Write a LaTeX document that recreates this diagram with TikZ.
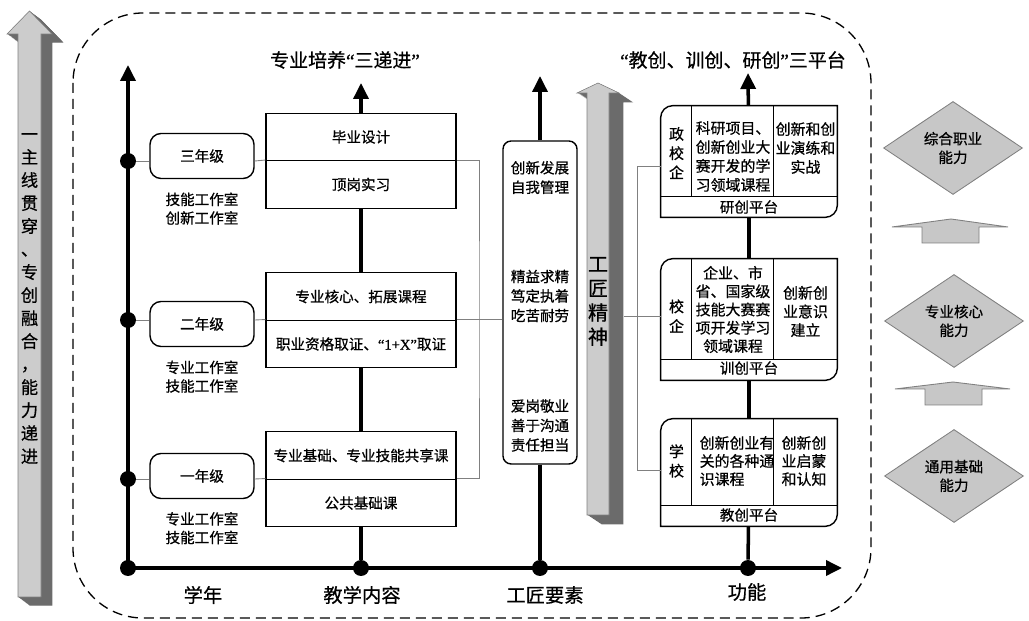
\documentclass[tikz,border=0pt]{standalone}
\usepackage{fontspec}
\setmainfont{Noto Sans CJK SC}[FakeBold=0.6]
\newfontfamily\quotefont{Liberation Serif}[FakeBold=0.6]
\newcommand\qopen{{\quotefont “}}
\newcommand\qclose{{\quotefont ”}}
\usetikzlibrary{arrows.meta,positioning,shapes.geometric}

\definecolor{facegray}{gray}{0.80}
\definecolor{sidegray}{gray}{0.42}
\definecolor{dmdgray}{gray}{0.78}
\definecolor{linkgray}{gray}{0.50}

\tikzset{
  txt/.style={font=\fontsize{8.3}{10.6}\selectfont, align=center, inner sep=0pt},
  yearbox/.style={txt, draw, line width=0.8pt, rounded corners=0.22cm, fill=white,
    minimum width=2.08cm, minimum height=0.9cm},
  coursebox/.style={txt, draw, line width=0.8pt, fill=white,
    minimum width=3.8cm, minimum height=0.95cm},
  platform/.style={minimum width=3.52cm, inner sep=0pt},
  ability/.style={txt, diamond, draw=gray, fill=dmdgray, line width=0.5pt,
    minimum width=2.78cm, minimum height=1.86cm},
  dot/.style={circle, fill=black, inner sep=0pt, minimum size=0.32cm},
  spine/.style={line width=2pt},
  spinetip/.style={-{Triangle[length=0.32cm,width=0.3cm]}},
  link/.style={draw=linkgray, line width=0.5pt},
  heading/.style={font=\fontsize{10.8}{13}\selectfont, inner sep=0pt},
  axislabel/.style={font=\fontsize{11}{13}\selectfont, inner sep=0pt}
}

\begin{document}
\begin{tikzpicture}[x=0.02cm, y=-0.02cm]
\useasboundingbox (0,0) rectangle (1029,621);

% outer dashed frame
\draw[dashed, dash pattern=on 0.2cm off 0.12cm, line width=0.75pt, rounded corners=1.4cm]
  (73,13) rectangle (871,618);

% left 3D arrow
\foreach \s in {0,0.05,...,1}
  \fill[sidegray, shift={(12*\s,9*\s)}] (18,597) -- (18,34) -- (7,34) -- (29.5,11)
    -- (52,34) -- (41,34) -- (41,597) -- cycle;
\filldraw[fill=facegray, draw=gray, line width=0.3pt] (18,597) -- (18,34) -- (7,34)
  -- (29.5,11) -- (52,34) -- (41,34) -- (41,597) -- cycle;
\node[font=\fontsize{9.8}{13.1}\selectfont, align=center, inner sep=0pt] (mainline) at (29.5,298.5)
  {一\\主\\线\\贯\\穿\\、\\专\\创\\融\\合\\，\\能\\力\\递\\进};

% axes
\node[dot] (dO) at (128,568) {};
\node[dot] (d3) at (128,161) {};
\node[dot] (d2) at (128,320) {};
\node[dot] (d1) at (128,479) {};
\node[dot] (dT) at (361,568) {};
\node[dot] (dC) at (540,568) {};
\node[dot] (dF) at (748,568) {};
\coordinate (ytop) at (128,65);
\coordinate (xend) at (842,568);
\draw[spine, spinetip] (dO.center) -- (ytop);
\draw[spine, spinetip] (dO.center) -- (xend);

% years
\node[yearbox] (y3) at (202,156) {三年级};
\node[yearbox] (y2) at (202,324) {二年级};
\node[yearbox] (y1) at (202,476) {一年级};
\node[txt, below=0.26cm of y3] (s3) {技能工作室\\创新工作室};
\node[txt, below=0.26cm of y2] (s2) {专业工作室\\技能工作室};
\node[txt, below=0.25cm of y1] (s1) {专业工作室\\技能工作室};

% courses
\node[coursebox] (c3a) at (361,137) {毕业设计};
\node[coursebox] (c3b) at (361,184.5) {顶岗实习};
\node[coursebox] (c2a) at (361,296.5) {专业核心、拓展课程};
\node[coursebox] (c2b) at (361,344) {职业资格取证、\qopen{\quotefont 1+X}\qclose 取证};
\node[coursebox] (c1a) at (361,455.5) {专业基础、专业技能共享课};
\node[coursebox] (c1b) at (361,503) {公共基础课};
\coordinate (t1top) at (361,83);
\draw[spine] (c1b) -- (dT);
\draw[spine] (c1a) -- (c2b);
\draw[spine] (c2a) -- (c3b);
\draw[spine, spinetip] (c3a) -- (t1top);

\draw[link] (d3) -- (y3.west |- d3);
\draw[link] (d2) -- (y2.west |- d2);
\draw[link] (d1) -- (y1.west |- d1);
\draw[link] (y3.east |- d3) -- (c3b.north west);
\draw[link] (y2.east |- d2) -- (c2b.north west);
\draw[link] (y1.east |- d1) -- (c1b.north west);

% craftsman elements
\node[draw, line width=0.8pt, rounded corners=0.16cm, fill=white,
  minimum width=1.48cm, minimum height=6.46cm] (gj) at (540,302.5) {};
\node[txt, font=\fontsize{8.3}{11.1}\selectfont] (g3) at (540,177.5) {创新发展\\自我管理};
\node[txt, font=\fontsize{8.3}{11.1}\selectfont] (g2) at (540,296) {精益求精\\笃定执着\\吃苦耐劳};
\node[txt, font=\fontsize{8.3}{11.1}\selectfont] (g1) at (540,425.5) {爱岗敬业\\善于沟通\\责任担当};
\coordinate (gjtop) at (540,76);
\draw[spine] (gj) -- (dC);
\draw[spine, spinetip] (gj) -- (gjtop);

\coordinate (lv) at (479,320);
\draw[link] (c3b.north east) -| (lv) |- (c1b.north east);
\draw[link] (c2b.north east) -- (gj.west |- c2b.north east);

% craftsman spirit arrow
\foreach \s in {0,0.05,...,1}
  \fill[sidegray, shift={(15*\s,10*\s)}] (587,515) -- (587,93) -- (577,93) -- (598,83)
    -- (619,93) -- (609,93) -- (609,515) -- cycle;
\filldraw[fill=facegray, draw=gray, line width=0.3pt] (587,515) -- (587,93) -- (577,93)
  -- (598,83) -- (619,93) -- (609,93) -- (609,515) -- cycle;
\node[font=\fontsize{11.4}{13.8}\selectfont, align=center, inner sep=0pt] (spirit) at (598,301.5)
  {工\\匠\\精\\神};

% platforms
\node[platform, minimum height=2.22cm] (p3) at (749,161.5) {};
\node[platform, minimum height=2.42cm] (p2) at (749,319.5) {};
\node[platform, minimum height=2.14cm] (p1) at (749,472.5) {};
\coordinate (ptop) at (748,73);
\draw[spine] (p1) -- (dF);
\draw[spine] (p1) -- (p2);
\draw[spine] (p2) -- (p3);
\draw[spine, spinetip] (p3) -- (ptop);
\foreach \p in {p1,p2,p3} {
  \draw[line width=0.8pt, fill=white] (\p.south west) [rounded corners=0.24cm] -- (\p.north west)
    [sharp corners] -- (\p.north east) [rounded corners=0.24cm] -- (\p.south east)
    [sharp corners] -- (\p.south west) -- cycle;
  \draw[line width=0.8pt] ([yshift=0.42cm]\p.south west) -- ([yshift=0.42cm]\p.south east);
  \draw[line width=0.8pt] ([xshift=0.62cm]\p.north west) -- ([xshift=0.62cm,yshift=0.42cm]\p.south west);
  \draw[line width=0.8pt] ([xshift=2.26cm]\p.north west) -- ([xshift=2.26cm,yshift=0.42cm]\p.south west);
}
\node[txt, font=\fontsize{8.5}{11}\selectfont] (p3a) at (676.5,153) {政\\校\\企};
\node[txt, font=\fontsize{8.5}{10.8}\selectfont] (p3b) at (733,156.5) {科研项目、\\创新创业大\\赛开发的学\\习领域课程};
\node[txt, font=\fontsize{8.5}{10.8}\selectfont] (p3c) at (805.5,148) {创新和创\\业演练和\\实战};
\node[txt] (p3n) at (749,207) {研创平台};
\node[txt, font=\fontsize{8.5}{11.2}\selectfont] (p2a) at (676.5,316) {校\\企};
\node[txt, font=\fontsize{8.5}{10.4}\selectfont] (p2b) at (733,309.5) {企业、市\\省、国家级\\技能大赛赛\\项开发学习\\领域课程};
\node[txt, font=\fontsize{8.5}{10.6}\selectfont] (p2c) at (805.5,311.5) {创新创\\业意识\\建立};
\node[txt] (p2n) at (749,368) {训创平台};
\node[txt, font=\fontsize{8.5}{11}\selectfont] (p1a) at (676.5,461) {学\\校};
\node[txt, font=\fontsize{8.5}{10.3}\selectfont, align=left] (p1b) at (737,461) {创新创业有\\关的各种通\\识课程};
\node[txt, font=\fontsize{8.5}{10.3}\selectfont, align=left] (p1c) at (804,461) {创新创\\业启蒙\\和认知};
\node[txt] (p1n) at (749,515) {教创平台};

\coordinate (r3) at (637,166);
\coordinate (r1) at (637,470);
\coordinate (jjside) at (624,316);
\draw[link] (p3.west |- r3) -- (r3) -- (r1) -- (p1.west |- r1);
\draw[link] (jjside) -- (p2.west |- jjside);

% abilities
\node[ability] (a3) at (953,148) {综合职业\\能力};
\node[ability] (a2) at (954,321) {专业核心\\能力};
\node[ability] (a1) at (954,476) {通用基础\\能力};
\filldraw[fill=dmdgray, draw=gray, line width=0.5pt] (892,227) -- (951,219) -- (1008,227)
  -- (979,227) -- (979,243) -- (922,243) -- (922,227) -- cycle;
\filldraw[fill=dmdgray, draw=gray, line width=0.5pt] (895,389) -- (953,382) -- (1010,389)
  -- (982,389) -- (982,405) -- (925,405) -- (925,389) -- cycle;

% headings and axis labels
\node[heading] (h1) at (345,60) {专业培养\qopen 三递进\qclose};
\node[heading] (h2) at (733,60) {\qopen 教创、训创、研创\qclose 三平台};
\node[axislabel] (l1) at (203,595) {学年};
\node[axislabel] (l2) at (362,595) {教学内容};
\node[axislabel] (l3) at (545,595) {工匠要素};
\node[axislabel] (l4) at (747,592) {功能};
\end{tikzpicture}
\end{document}
